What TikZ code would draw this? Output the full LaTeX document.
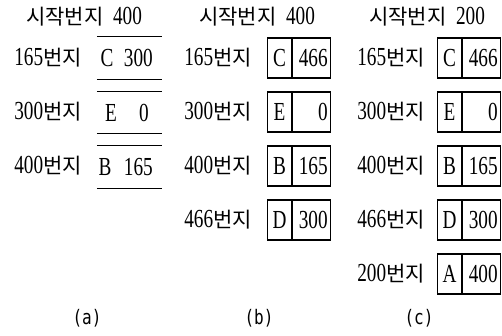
\documentclass[tikz,border=0pt]{standalone}
\usepackage{fontspec}
\setmainfont{Liberation Serif}[FakeStretch=0.74]
\newfontfamily\hangul{Noto Sans CJK KR}
\newfontfamily\capfont{DejaVu Sans Mono}[FakeStretch=0.8]
\usepackage{tikz}
\usetikzlibrary{positioning}
\newcommand{\bj}{{\hangul\fontsize{21}{26}\selectfont 번지}}
\newcommand{\sj}{{\hangul\fontsize{21}{26}\selectfont 시작번지}}
\tikzset{
  ttl/.style ={inner sep=0pt,font=\fontsize{26}{30}\selectfont},
  addr/.style={anchor=east,inner sep=0pt,font=\fontsize{26}{30}\selectfont},
  rec/.style ={minimum width=65pt,minimum height=42pt,inner sep=0pt},
  val/.style ={inner sep=0pt,font=\fontsize{26}{30}\selectfont},
  recline/.style={line width=0.9pt},
  key/.style ={draw,line width=1.1pt,minimum width=24pt,minimum height=40pt,inner sep=0pt,font=\fontsize{26}{30}\selectfont},
  ptr/.style ={draw,line width=1.1pt,minimum height=40pt,text width=32pt,align=right,inner sep=3pt,font=\fontsize{26}{30}\selectfont},
  figcap/.style ={inner sep=0pt,font=\capfont\fontsize{20}{24}\selectfont},
}

\begin{document}
\begin{tikzpicture}[x=1pt,y=-1pt]
  \useasboundingbox (0,0) rectangle (502,336);
  % (a)
  \node[ttl](ta) at (84,17){\sj\ \ 400};
  \node[addr](a165) at (82,58){165\bj};   \node[rec](aC) at (129.5,58){};
  \node[addr](a300) at (82,112){300\bj};  \node[rec](aE) at (129.5,112.5){};
  \node[addr](a400) at (82,166){400\bj};  \node[rec](aB) at (129.5,167){};
  \node[val](aCk) at (107,58){C};  \node[val,anchor=east](aCv) at (153,58){300};
  \node[val](aEk) at (111,112.5){E};  \node[val,anchor=east](aEv) at (149,112.5){0};
  \node[val](aBk) at (105,167){B};  \node[val,anchor=east](aBv) at (153,167){165};
  \foreach \r in {aC,aE,aB}{\draw[recline](\r.north west)--(\r.north east); \draw[recline](\r.south west)--(\r.south east);}
  \node[figcap](ca) at (87,318){(a)};
  % (b)
  \node[ttl](tb) at (257,17){\sj\ \ 400};
  \node[addr](b165) at (252,58){165\bj};   \node[key,anchor=west](bC) at (267,58){C};  \node[ptr,right=0pt of bC](bCp){466};
  \node[addr](b300) at (252,112){300\bj};  \node[key,anchor=west](bE) at (267,112){E};  \node[ptr,right=0pt of bE](bEp){0};
  \node[addr](b400) at (252,166){400\bj};  \node[key,anchor=west](bB) at (267,166){B};  \node[ptr,right=0pt of bB](bBp){165};
  \node[addr](b466) at (252,220){466\bj};  \node[key,anchor=west](bD) at (267,220){D};  \node[ptr,right=0pt of bD](bDp){300};
  \node[figcap](cb) at (259,318){(b)};
  % (c)
  \node[ttl](tc) at (427,17){\sj\ \ 200};
  \node[addr](c165) at (425,58){165\bj};   \node[key,anchor=west](cC) at (437,58){C};  \node[ptr,right=0pt of cC](cCp){466};
  \node[addr](c300) at (425,112){300\bj};  \node[key,anchor=west](cE) at (437,112){E};  \node[ptr,right=0pt of cE](cEp){0};
  \node[addr](c400) at (425,166){400\bj};  \node[key,anchor=west](cB) at (437,166){B};  \node[ptr,right=0pt of cB](cBp){165};
  \node[addr](c466) at (425,220){466\bj};  \node[key,anchor=west](cD) at (437,220){D};  \node[ptr,right=0pt of cD](cDp){300};
  \node[addr](c200) at (425,274){200\bj};  \node[key,anchor=west](cA) at (437,274){A};  \node[ptr,right=0pt of cA](cAp){400};
  \node[figcap](cc) at (419,318){(c)};
\end{tikzpicture}
\end{document}
